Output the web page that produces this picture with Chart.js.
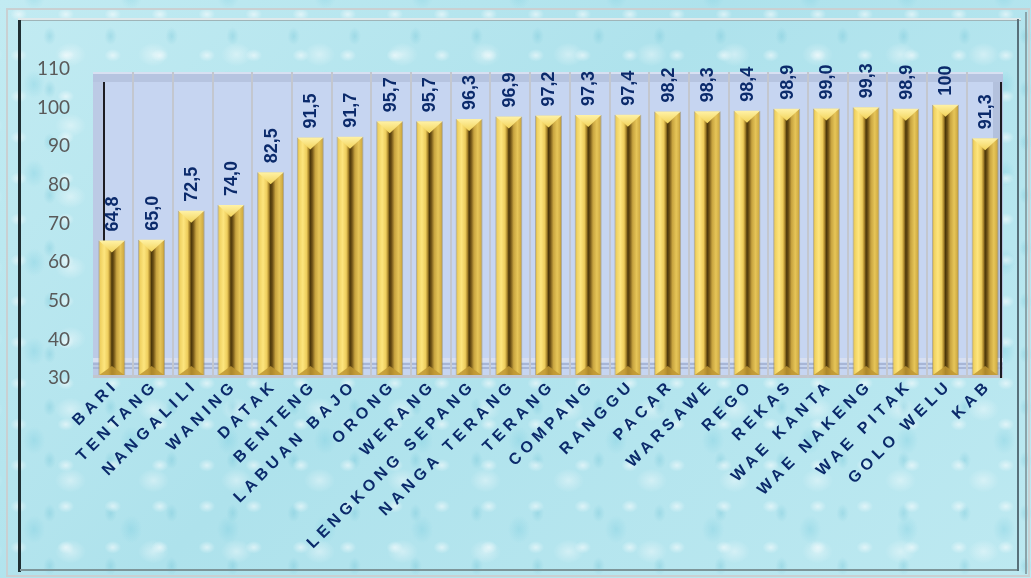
<!DOCTYPE html>
<html>
<head>
<meta charset="utf-8">
<script src="https://cdn.jsdelivr.net/npm/chart.js@4.4.1/dist/chart.umd.min.js"></script>
<style>
  html, body { margin: 0; padding: 0; }
  #wrap {
    position: relative;
    width: 1031px;
    height: 578px;
    background:
      radial-gradient(ellipse 12px 9px at 40% 35%, rgba(255,255,255,0.55), rgba(255,255,255,0) 70%) 0 0 / 47px 41px,
      radial-gradient(ellipse 9px 13px at 60% 55%, rgba(100,190,210,0.3), rgba(100,190,210,0) 70%) 13px 7px / 61px 53px,
      radial-gradient(ellipse 22px 17px at 50% 50%, rgba(255,255,255,0.4), rgba(255,255,255,0) 70%) 29px 19px / 83px 71px,
      radial-gradient(ellipse 16px 20px at 30% 60%, rgba(110,200,220,0.3), rgba(110,200,220,0) 70%) 5px 31px / 97px 89px,
      linear-gradient(135deg, #c2ebf2 0%, #aee2ec 45%, #bde9f1 100%);
  }
  canvas { display: block; }
</style>
</head>
<body>
<div id="wrap"><canvas id="chart" width="1031" height="578"></canvas></div>
<script>
// Villages along the x axis, last bar is the regency total
const categories = [
  'BARI', 'TENTANG', 'NANGALILI', 'WANING', 'DATAK', 'BENTENG', 'LABUAN BAJO',
  'ORONG', 'WERANG', 'LENGKONG SEPANG', 'NANGA TERANG', 'TERANG', 'COMPANG',
  'RANGGU', 'PACAR', 'WARSAWE', 'REGO', 'REKAS', 'WAE KANTA', 'WAE NAKENG',
  'WAE PITAK', 'GOLO WELU', 'KAB'
];
const values = [
  64.8, 65.0, 72.5, 74.0, 82.5, 91.5, 91.7,
  95.7, 95.7, 96.3, 96.9, 97.2, 97.3,
  97.4, 98.2, 98.3, 98.4, 98.9, 99.0, 99.3,
  98.9, 100, 91.3
];
const yTicks = [30, 40, 50, 60, 70, 80, 90, 100, 110];

const NAVY = '#0b2a6b';

function valueText(v) {
  return v >= 100 ? v.toFixed(0) : v.toFixed(1).replace('.', ',');
}

function barWidth(chart) {
  const x = chart.scales.x;
  return (x.width / categories.length) * 0.68;
}

// Golden column fill with dark central groove
function barFill(context) {
  const chart = context.chart;
  if (!chart.chartArea) return '#e8c44a';
  const cx = chart.scales.x.getPixelForValue(context.dataIndex);
  const w = barWidth(chart);
  const g = chart.ctx.createLinearGradient(cx - w / 2, 0, cx + w / 2, 0);
  g.addColorStop(0.00, '#c4a038');
  g.addColorStop(0.08, '#f0d262');
  g.addColorStop(0.22, '#fde57e');
  g.addColorStop(0.36, '#eecd5c');
  g.addColorStop(0.44, '#a5822a');
  g.addColorStop(0.50, '#4a360a');
  g.addColorStop(0.57, '#6e5216');
  g.addColorStop(0.68, '#c8a440');
  g.addColorStop(0.82, '#e6c558');
  g.addColorStop(0.93, '#d2ae46');
  g.addColorStop(1.00, '#9a7826');
  return g;
}

// Page frame around the chart
const framePlugin = {
  id: 'frame',
  beforeDraw(chart) {
    const c = chart.ctx;
    c.save();
    c.strokeStyle = '#c9d0d2';
    c.lineWidth = 2;
    c.strokeRect(7, 9, 1022, 567);
    c.fillStyle = '#dfe9eb';
    c.fillRect(18, 18, 1003, 2);
    c.fillStyle = '#9fb4b8';
    c.fillRect(18, 20, 1003, 1);
    c.fillStyle = '#1f2f33';
    c.fillRect(18, 20, 3, 552);
    c.fillStyle = '#7d9599';
    c.fillRect(20, 569, 999, 2);
    c.fillStyle = '#58707a';
    c.fillRect(1017, 19, 2, 552);
    c.fillStyle = '#8aa4aa';
    c.fillRect(1025, 12, 2, 562);
    c.restore();

    // spaced lettering for the category labels; the shift compensates
    // for the trailing letter gap so each name ends under its column
    const sx = chart.scales.x;
    if (sx && !sx.__spaced) {
      const base = sx.drawLabels;
      sx.drawLabels = function (area) {
        const ctx = this.ctx;
        ctx.save();
        ctx.letterSpacing = '4.5px';
        ctx.translate(4, -3);
        base.call(this, area);
        ctx.restore();
      };
      sx.__spaced = true;
    }
  }
};

// Back wall, floor and category dividers of the plot
const wallPlugin = {
  id: 'wall',
  beforeDatasetsDraw(chart) {
    const c = chart.ctx;
    const a = chart.chartArea;
    const L = a.left + 1, T = a.top + 6, R = a.right - 2, B = a.bottom + 3;
    c.save();
    c.fillStyle = '#c6d5f1';
    c.fillRect(L, T, R - L, B - T);
    // bevelled rim
    c.fillStyle = '#b6c4e0';
    c.fillRect(L, T, R - L, 10);
    c.fillStyle = '#bccae5';
    c.fillRect(L, T + 10, 10, B - T - 10);
    c.fillStyle = '#b3c1dd';
    c.fillRect(R - 10, T + 10, 10, B - T - 10);
    c.fillStyle = '#d8e0f2';
    c.fillRect(L, T, R - L, 2);
    // floor strips
    c.fillStyle = '#d7dff1';
    c.fillRect(L, B - 20, R - L, 4);
    c.fillStyle = '#a8b6d6';
    c.fillRect(L, B - 15, R - L, 2);
    c.fillRect(L, B - 11, R - L, 2);
    c.fillStyle = '#c2c6ce';
    c.fillRect(L, B - 3, R - L, 3);
    // dark inner edges
    c.fillStyle = '#1c1c22';
    c.fillRect(L + 10, T + 10, 2, B - T - 28);
    c.fillRect(R - 3, T + 10, 2, B - T - 10);
    // category dividers
    const sx = chart.scales.x;
    const step = sx.width / categories.length;
    c.fillStyle = '#c3c7cf';
    for (let i = 1; i < categories.length; i++) {
      const x = Math.round(sx.getPixelForValue(i) - step / 2 + 1.5);
      c.fillRect(x - 1, T, 2, B - T);
    }
    c.restore();
  }
};

// Bevelled caps and bases of the columns, plus the value labels
const capsPlugin = {
  id: 'caps',
  afterDatasetsDraw(chart) {
    const c = chart.ctx;
    const meta = chart.getDatasetMeta(0);
    const floor = chart.chartArea.bottom;
    c.save();
    meta.data.forEach((bar, i) => {
      const w = bar.width, x = bar.x, y = bar.y;
      // top bevel
      const g = c.createLinearGradient(0, y, 0, y + 12);
      g.addColorStop(0, '#fff2a6');
      g.addColorStop(1, '#f2d35a');
      c.fillStyle = g;
      c.beginPath();
      c.moveTo(x - w / 2 + 0.5, y);
      c.lineTo(x + w / 2 - 0.5, y);
      c.lineTo(x, y + 12);
      c.closePath();
      c.fill();
      // bottom bevel
      c.fillStyle = 'rgba(190,150,50,0.85)';
      c.beginPath();
      c.moveTo(x - w / 2 + 1, floor);
      c.lineTo(x + w / 2 - 1, floor);
      c.lineTo(x, floor - 9);
      c.closePath();
      c.fill();
      // value label
      c.save();
      c.translate(x + 1, y - 9);
      c.rotate(-Math.PI / 2);
      c.font = 'bold 18px "Liberation Sans", Arial, sans-serif';
      c.fillStyle = NAVY;
      c.textAlign = 'left';
      c.textBaseline = 'middle';
      c.fillText(valueText(values[i]), 0, 0);
      c.restore();
    });
    c.restore();
  }
};

new Chart(document.getElementById('chart'), {
  type: 'bar',
  data: {
    labels: categories,
    datasets: [{
      data: values,
      backgroundColor: barFill,
      borderColor: 'rgba(150,135,95,0.55)',
      borderWidth: 1,
      borderSkipped: false,
      categoryPercentage: 1.0,
      barPercentage: 0.68
    }]
  },
  options: {
    responsive: false,
    animation: false,
    layout: { padding: { top: 66, right: 26, bottom: 0, left: 0 } },
    plugins: {
      legend: { display: false },
      tooltip: { enabled: false }
    },
    scales: {
      x: {
        grid: { display: false, drawTicks: false },
        border: { display: false },
        ticks: {
          autoSkip: false,
          minRotation: 45,
          maxRotation: 45,
          padding: 4,
          color: NAVY,
          font: { family: '"Liberation Sans", Arial, sans-serif', size: 16, weight: 'bold' }
        },
        afterFit(scale) { scale.height = 203; }
      },
      y: {
        min: yTicks[0],
        max: yTicks[yTicks.length - 1],
        grid: { display: false, drawTicks: false },
        border: { display: false },
        ticks: {
          stepSize: yTicks[1] - yTicks[0],
          padding: 22,
          labelOffset: 3,
          color: '#595959',
          font: { family: 'Lato, "Open Sans", sans-serif', size: 19 }
        },
        afterFit(scale) { scale.width = 92; }
      }
    }
  },
  plugins: [framePlugin, wallPlugin, capsPlugin]
});
</script>
</body>
</html>
